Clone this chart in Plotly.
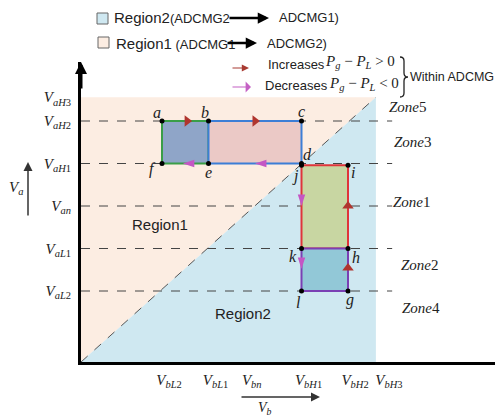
import plotly.graph_objects as go

# ---------------- data ----------------
x_tick_text = ['<i>V</i><sub><i>bL</i>2</sub>', '<i>V</i><sub><i>bL</i>1</sub>', '<i>V</i><sub><i>bn</i></sub>',
               '<i>V</i><sub><i>bH</i>1</sub>', '<i>V</i><sub><i>bH</i>2</sub>', '<i>V</i><sub><i>bH</i>3</sub>']
x_tick_vals = [1.0, 2.0, 2.78, 4.0, 5.0, 5.73]

y_tick_text = ['<i>V</i><sub><i>aL</i>2</sub>', '<i>V</i><sub><i>aL</i>1</sub>', '<i>V</i><sub><i>an</i></sub>',
               '<i>V</i><sub><i>aH</i>1</sub>', '<i>V</i><sub><i>aH</i>2</sub>', '<i>V</i><sub><i>aH</i>3</sub>']
y_tick_vals = [1.0, 2.0, 3.0, 4.0, 5.0, 5.56]

# boundary of the shaded regions
region_right = 5.6
region_top = 5.56

# vertices (name, x, y)
vertex_names = ['a', 'b', 'c', 'd', 'e', 'f', 'j', 'i', 'k', 'h', 'l', 'g']
vertex_x = [1, 2, 4, 4, 2, 1, 4, 5, 4, 5, 4, 5]
vertex_y = [5, 5, 5, 4, 4, 4, 3.96, 3.96, 2, 2, 1, 1]

# rectangles: x0, x1, y0, y1
rect_x0 = [1, 2, 4, 4]
rect_x1 = [2, 4, 5, 5]
rect_y0 = [4, 4, 2, 1]
rect_y1 = [5, 5, 3.96, 2]
rect_fill = ['#8FA5C8', '#EBC9C6', '#C8D6A2', '#92C8D7']
rect_line = ['#3A9E48', '#3C7ED6', '#E0343A', '#7A40B4']

# direction arrows on edges
inc_x = [1.54, 3.0, 5.0, 5.0]
inc_y = [5.0, 5.0, 1.54, 3.0]
inc_sym = ['triangle-right', 'triangle-right', 'triangle-up', 'triangle-up']
dec_x = [1.45, 3.0, 4.0, 4.0]
dec_y = [4.0, 4.0, 3.0, 1.52]
dec_ang = [270, 270, 180, 180]

# dashed level lines
level_y = [1, 2, 3, 4, 5]
level_x_end = 5.95

# ---------------- geometry helpers ----------------
W, H = 495, 417
ML, MR, MT, MB = 81, 0, 62, 55
XR = [(81 - 115.5) / 46.5, (495 - 115.5) / 46.5]
YR = [(333.5 - 362) / 42.5, (333.5 - 62) / 42.5]


def px(x):
    return (x - ML) / (W - ML - MR)


def py(y):
    return (H - MB - y) / (H - MT - MB)


XL, YB = XR[0], YR[0]

fig = go.Figure()
shapes = []
# regions
shapes.append(dict(type='path', layer='below', line=dict(width=0), fillcolor='#FCEDE2',
                   path=f'M {XL},{YB} L {XL},{region_top} L {region_right},{region_top} Z'))
shapes.append(dict(type='path', layer='below', line=dict(width=0), fillcolor='#CFE8F1',
                   path=f'M {XL},{YB} L {region_right},{region_top} L {region_right},{YB} Z'))
# level lines
for yv in level_y:
    shapes.append(dict(type='line', layer='below', x0=XL, x1=level_x_end, y0=yv, y1=yv,
                       line=dict(color='#444444', width=1, dash='dash')))
# diagonal
shapes.append(dict(type='line', layer='below', x0=XL, y0=YB, x1=region_right, y1=region_top,
                   line=dict(color='#555555', width=1, dash='dash')))
# rectangles
for x0, x1, y0, y1, fc, lc in zip(rect_x0, rect_x1, rect_y0, rect_y1, rect_fill, rect_line):
    shapes.append(dict(type='rect', layer='below', x0=x0, x1=x1, y0=y0, y1=y1,
                       fillcolor=fc, line=dict(color=lc, width=2)))
# legend squares
shapes.append(dict(type='rect', xref='paper', yref='paper', x0=px(97), x1=px(108), y0=py(24), y1=py(13),
                   fillcolor='#CFE8F1', line=dict(color='#666666', width=1)))
shapes.append(dict(type='rect', xref='paper', yref='paper', x0=px(98), x1=px(109), y0=py(48), y1=py(37),
                   fillcolor='#FCEDE2', line=dict(color='#666666', width=1)))
# curly brace
bp = [(400, 57), (404, 57), (404, 61), (404, 73), (404, 77), (408, 77), (404, 77), (404, 81),
      (404, 93), (404, 97), (400, 97)]
q = [f'{px(a):.5f},{py(b):.5f}' for a, b in bp]
brace_path = (f'M {q[0]} Q {q[1]} {q[2]} L {q[3]} Q {q[4]} {q[5]} Q {q[6]} {q[7]} '
              f'L {q[8]} Q {q[9]} {q[10]}')
shapes.append(dict(type='path', xref='paper', yref='paper', path=brace_path,
                   line=dict(color='#222222', width=1.3)))

fig.add_trace(go.Scatter(x=inc_x, y=inc_y, mode='markers', hoverinfo='skip',
                         marker=dict(symbol=inc_sym, size=10, color='#B0352E')))
fig.add_trace(go.Scatter(x=dec_x, y=dec_y, mode='markers', hoverinfo='skip',
                         marker=dict(symbol='arrow', angle=dec_ang, size=12, color='#C456C4')))
fig.add_trace(go.Scatter(x=vertex_x, y=vertex_y, mode='markers', hoverinfo='skip',
                         marker=dict(size=5, color='black')))

serif = 'Liberation Serif'
sans = 'Liberation Sans'
ann = []
# vertex labels
offs = {'a': (-5, 9), 'b': (-4, 9), 'c': (0, 10), 'd': (6, 9), 'e': (0, -9), 'f': (-10, -5),
        'j': (-6, -11), 'i': (5, -7), 'k': (-9, -8), 'h': (8, -9), 'l': (-3, -11), 'g': (2, -9)}
for n, xv, yv in zip(vertex_names, vertex_x, vertex_y):
    dx, dy = offs[n]
    ann.append(dict(x=xv, y=yv, text=f'<i>{n}</i>', showarrow=False, xshift=dx, yshift=dy,
                    font=dict(family=serif, size=16, color='#222')))


def txt(x, y, t, family=sans, size=13, xanchor='left', color='#222'):
    ann.append(dict(xref='paper', yref='paper', x=px(x), y=py(y), text=t, showarrow=False,
                    xanchor=xanchor, yanchor='middle', font=dict(family=family, size=size, color=color)))


def arrow(x0, y0, x1, y1, color, width=1.5, head=2, size=1.0):
    ann.append(dict(xref='paper', yref='paper', x=px(x1), y=py(y1), ax=x0 - x1, ay=y0 - y1,
                    axref='pixel', ayref='pixel', text='', showarrow=True, arrowhead=head,
                    arrowsize=size, arrowwidth=width, arrowcolor=color))


# region / zone labels
txt(160, 224, 'Region1', size=15, xanchor='center')
txt(243, 313, 'Region2', size=15, xanchor='center')
txt(387, 107, '<i>Zone</i>5', family=serif, size=15)
txt(392, 142, '<i>Zone</i>3', family=serif, size=15)
txt(391, 202, '<i>Zone</i>1', family=serif, size=15)
txt(399, 265, '<i>Zone</i>2', family=serif, size=15)
txt(400, 308, '<i>Zone</i>4', family=serif, size=15)

# legend
txt(112, 18, '<span style="font-size:15px">Region2</span>(ADCMG2', size=13)
arrow(228, 18, 269, 18, 'black', width=2.5, size=0.9)
txt(277, 18, 'ADCMG1)', size=13)
txt(114, 43, '<span style="font-size:15px">Region1</span> (ADCMG1', size=13)
arrow(226, 43, 257, 43, 'black', width=2.5, size=0.9)
txt(265, 43, 'ADCMG2)', size=13)
arrow(231, 68, 249, 68, '#A83A32', width=1.2, size=1.2)
txt(266, 64, 'Increases', size=13)
txt(323, 62, '<i>P</i><sub><i>g</i></sub> − <i>P</i><sub><i>L</i></sub> &gt; 0', family=serif, size=15)
arrow(231, 87, 251, 87, '#C460C4', width=1.2, head=1, size=1.5)
txt(263, 86, 'Decreases', size=13)
txt(327, 84, '<i>P</i><sub><i>g</i></sub> − <i>P</i><sub><i>L</i></sub> &lt; 0', family=serif, size=15)
txt(408, 77, 'Within ADCMG', size=12.5)

# axis name labels
txt(16, 188, '<i>V</i><sub><i>a</i></sub>', family=serif, size=15, xanchor='center')
arrow(28, 217, 28, 162, '#333333', width=1.5, size=1.2)
txt(265, 408, '<i>V</i><sub><i>b</i></sub>', family=serif, size=14, xanchor='center')
arrow(240, 397, 320, 397, '#333333', width=1.5, size=1.2)
# y axis arrow head
arrow(81, 90, 81, 62, 'black', width=3, size=0.8)

fig.update_layout(
    width=W, height=H, margin=dict(l=ML, r=MR, t=MT, b=MB, autoexpand=False),
    paper_bgcolor='white', plot_bgcolor='white', showlegend=False,
    shapes=shapes, annotations=ann,
    xaxis=dict(range=XR, showgrid=False, zeroline=False, showline=True, linecolor='black', linewidth=3,
               tickvals=x_tick_vals, ticktext=x_tick_text, ticks='', ticklabelshift=7, ticklabelstandoff=2,
               tickfont=dict(family=serif, size=15, color='#222')),
    yaxis=dict(range=YR, showgrid=False, zeroline=False, showline=True, linecolor='black', linewidth=3,
               tickvals=y_tick_vals, ticktext=y_tick_text, ticks='', ticklabelstandoff=4,
               tickfont=dict(family=serif, size=15, color='#222')),
)

fig.write_html('out.html', config={'displayModeBar': False},
               post_script="document.body.style.margin='0';document.body.style.overflow='hidden';")
